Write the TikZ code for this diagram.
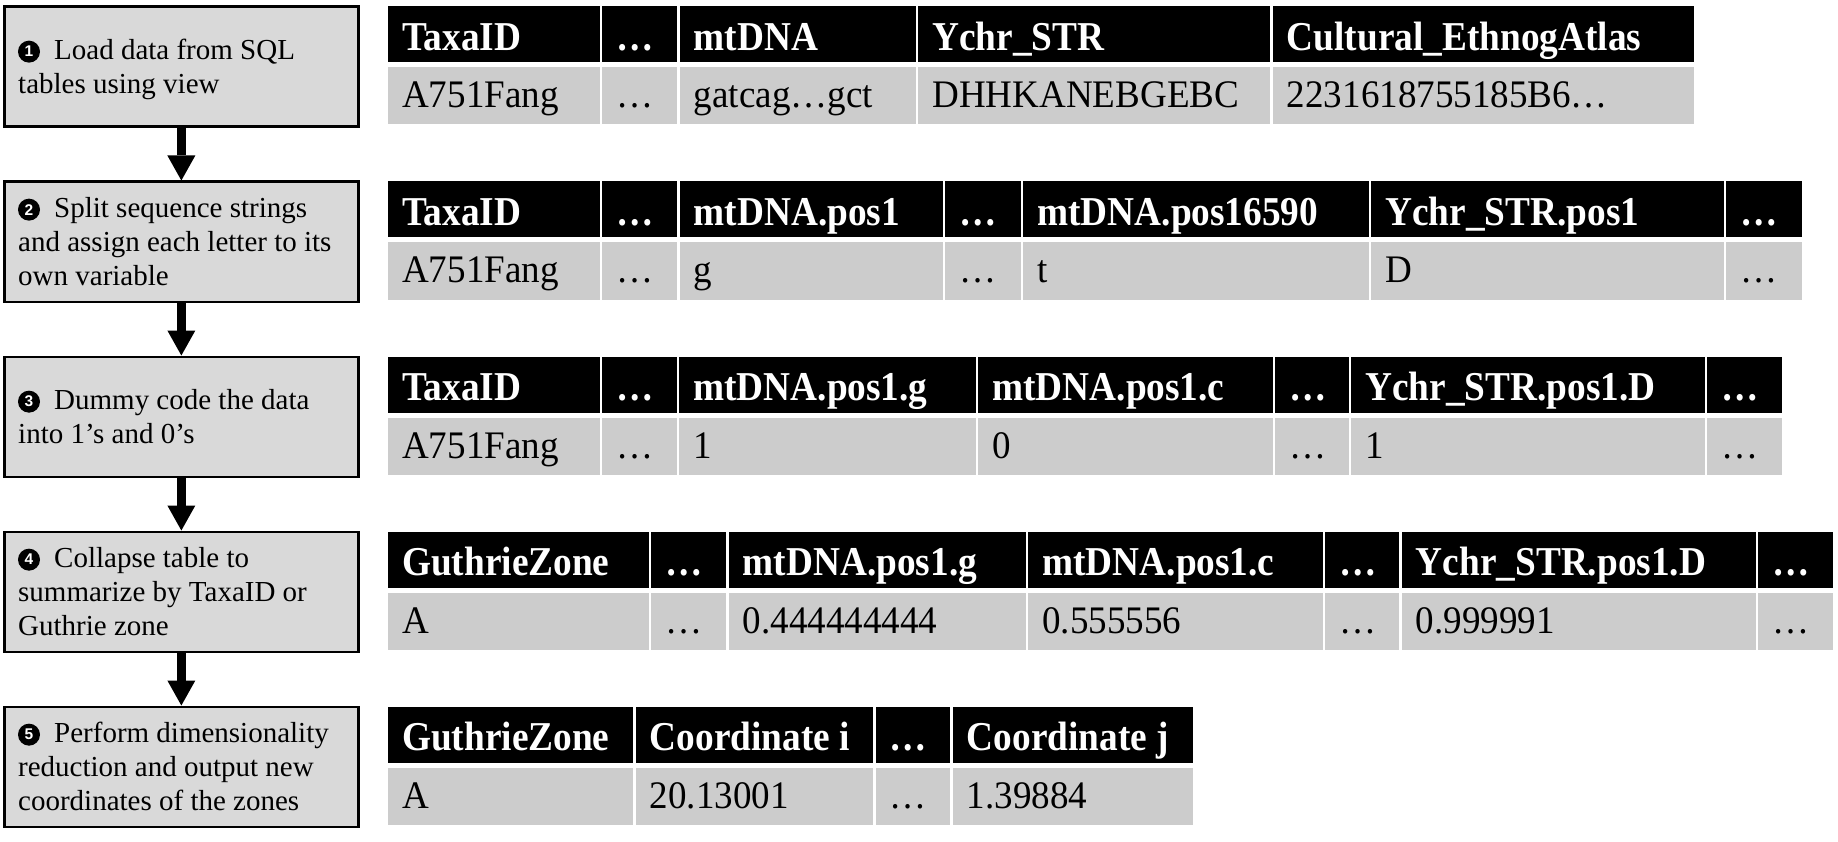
\documentclass[tikz,border=0pt]{standalone}
\usepackage{fontspec}
\setmainfont{Liberation Serif}
\newfontfamily\hdrfont[FakeStretch=0.91]{Liberation Serif Bold}
\newfontfamily\celfont[FakeStretch=0.95]{Liberation Serif}
\newfontfamily\numfont{Liberation Sans Bold}
\usetikzlibrary{arrows.meta}
\definecolor{boxgray}{HTML}{D9D9D9}
\definecolor{rowgray}{HTML}{CCCCCC}

\tikzset{
  stepbox/.style={draw=black, line width=2.7pt, fill=boxgray,
    minimum width=354pt, minimum height=120pt, anchor=north west, inner sep=0pt},
  steptext/.style={anchor=west, inner sep=0pt, align=left,
    font=\fontsize{29}{34}\selectfont},
  stepnum/.style={circle, fill=black, text=white, inner sep=0pt,
    minimum size=22pt, font=\numfont\fontsize{15.5}{15.5}\selectfont},
  flow/.style={line width=9pt, -{Triangle[width=28pt,length=25pt,line width=0pt]}},
  hdrcell/.style={fill=black},
  datcell/.style={fill=rowgray},
  hdrtext/.style={anchor=base west, inner sep=0pt, text=white,
    font=\hdrfont\fontsize{41}{41}\selectfont},
  dattext/.style={anchor=base west, inner sep=0pt, text=black,
    font=\celfont\fontsize{39}{39}\selectfont},
}

% step description inside box #1, numbered #2
\newcommand\steplabel[3]{%
  \node[steptext] (#1t) at ([xshift=15pt,yshift=-3pt]#1.west)
    {\strut\hspace*{36pt}#3\strut};
  \node[stepnum] (#1n) at ([xshift=11pt,yshift=-16pt]#1t.north west) {#2};
}

% one two-row table: #1 name, #2 vertical offset, #3 cells x0/x1/header/data
\newcommand\datatable[3]{%
  \foreach \xa/\xb/\hd/\dt [count=\i] in {#3} {
    \path[hdrcell] (\xa,#2+6.5) rectangle (\xb,#2+62.5);
    \path[datcell] (\xa,#2+67.5) rectangle (\xb,#2+124.5);
    \node[hdrtext] (#1h\i) at (\xa+14,#2+50.5) {\hd};
    \node[dattext] (#1d\i) at (\xa+14,#2+108) {\dt};
  }}

\begin{document}
\begin{tikzpicture}[x=1pt,y=-1pt]
\useasboundingbox (0,0) rectangle (1838,842);

% processing steps
\node[stepbox] (s1) at (3,5.5)   {};
\node[stepbox] (s2) at (3,180.5) {};
\node[stepbox] (s3) at (3,355.5) {};
\node[stepbox] (s4) at (3,530.5) {};
\node[stepbox] (s5) at (3,705.5) {};

\steplabel{s1}{1}{Load data from SQL\\tables using view}
\steplabel{s2}{2}{Split sequence strings\\and assign each letter to its\\own variable}
\steplabel{s3}{3}{Dummy code the data\\into 1’s and 0’s}
\steplabel{s4}{4}{Collapse table to\\summarize by TaxaID or\\Guthrie zone}
\steplabel{s5}{5}{Perform dimensionality\\reduction and output new\\coordinates of the zones}

\draw[flow] (s1.south) -- (s2.north);
\draw[flow] (s2.south) -- (s3.north);
\draw[flow] (s3.south) -- (s4.north);
\draw[flow] (s4.south) -- (s5.north);

% data tables after each step
\datatable{ta}{0}{388/599.8/TaxaID/A751Fang, 602.2/677.3/…/…,
  679.7/915.8/mtDNA/gatcag…gct, 918.2/1270.3/Ychr\_STR/DHHKANEBGEBC,
  1272.7/1694/Cultural\_EthnogAtlas/2231618755185B6…}

\datatable{tb}{175}{388/599.8/TaxaID/A751Fang, 602.2/677.3/…/…,
  679.7/942.8/mtDNA.pos1/g, 945.2/1020.8/…/…,
  1023.2/1368.8/mtDNA.pos16590/t, 1371.2/1723.8/Ychr\_STR.pos1/D,
  1726.2/1802/…/…}

\datatable{tc}{350}{388/599.8/TaxaID/A751Fang, 602.2/676.8/…/…,
  679.2/975.8/mtDNA.pos1.g/1, 978.2/1272.8/mtDNA.pos1.c/0,
  1275.2/1348.8/…/…, 1351.2/1704.8/Ychr\_STR.pos1.D/1,
  1707.2/1782/…/…}

\datatable{td}{525}{388/648.8/GuthrieZone/A, 651.2/726.3/…/…,
  728.7/1025.8/mtDNA.pos1.g/0.444444444, 1028.2/1322.8/mtDNA.pos1.c/0.555556,
  1325.2/1399.3/…/…, 1401.7/1755.8/Ychr\_STR.pos1.D/0.999991,
  1758.2/1833/…/…}

\datatable{te}{700}{388/633.3/GuthrieZone/A, 635.7/873.3/Coordinate i/20.13001,
  875.7/950.3/…/…, 952.7/1193/Coordinate j/1.39884}
\end{tikzpicture}
\end{document}
